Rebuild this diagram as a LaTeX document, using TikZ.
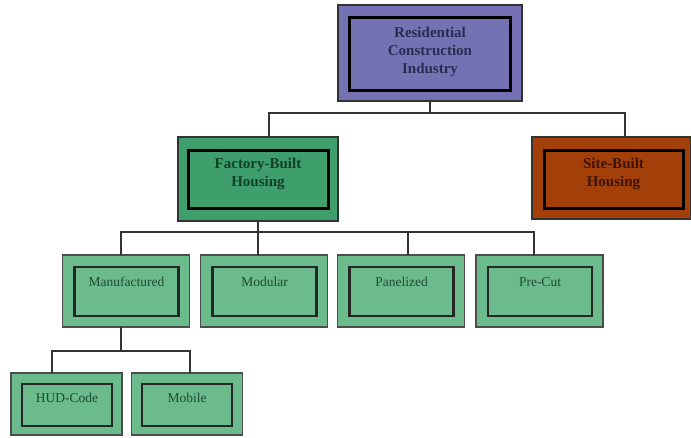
\documentclass[tikz,border=0pt]{standalone}
\usepackage{fontspec}
\setmainfont{Liberation Serif}
\usetikzlibrary{calc}
\definecolor{topfill}{HTML}{7572B4}
\definecolor{toptext}{HTML}{2B2B52}
\definecolor{fbfill}{HTML}{3E9E6C}
\definecolor{fbtext}{HTML}{123F25}
\definecolor{sbfill}{HTML}{A3400A}
\definecolor{sbtext}{HTML}{3A1406}
\definecolor{lvfill}{HTML}{6BBB8D}
\definecolor{lvtext}{HTML}{1F4A30}
\definecolor{conn}{HTML}{333333}
\begin{document}
\begin{tikzpicture}[x=1pt,y=-1pt,
  outerbox/.style={draw=#1,line width=2pt,inner sep=0,outer sep=0},
  innerbox/.style={draw=black,line width=3pt,inner sep=0,outer sep=0},
  smallouter/.style={draw=#1,line width=1.6pt,inner sep=0,outer sep=0,fill=lvfill,minimum width=127pt,minimum height=72pt},
  smallinner/.style={draw=black!85,line width=2.4pt,inner sep=0,outer sep=0,minimum width=104pt,minimum height=49pt},
  tinyouter/.style={draw=#1,line width=1.6pt,inner sep=0,outer sep=0,fill=lvfill,minimum width=111pt,minimum height=62pt},
  tinyinner/.style={draw=black!85,line width=2.4pt,inner sep=0,outer sep=0,minimum width=90pt,minimum height=42pt},
  bigtxt/.style={font=\fontsize{15}{18}\selectfont\bfseries,align=center,inner sep=0},
  smalltxt/.style={font=\fontsize{13.5}{16}\selectfont,text=lvtext,inner sep=0},
  link/.style={draw=conn,line width=1.5pt}]
\useasboundingbox (0,0) rectangle (691,437);

% connectors
\coordinate (j1) at (430,113);
\coordinate (j2) at (258,232);
\coordinate (j3) at (121,351);

% top
\node[outerbox=black!80,fill=topfill,minimum width=184pt,minimum height=96pt] (top) at (430,53) {};
\node[innerbox,minimum width=161pt,minimum height=73pt] (topin) at (429.5,53.5) {};
\node[bigtxt,text=toptext] (toptxt) at (430,52) {Residential\\Construction\\Industry};

% level 2
\node[outerbox=black!80,fill=fbfill,minimum width=160pt,minimum height=84pt] (fb) at (258,179) {};
\node[innerbox,minimum width=140pt,minimum height=58pt] (fbin) at (258,179) {};
\node[bigtxt,text=fbtext] (fbtxt) at (258,174) {Factory-Built\\Housing};

\node[outerbox=black!80,fill=sbfill,minimum width=159pt,minimum height=82pt] (sb) at (611.5,178) {};
\node[innerbox,minimum width=139pt,minimum height=58pt] (sbin) at (613.5,179) {};
\node[bigtxt,text=sbtext] (sbtxt) at (613.5,174) {Site-Built\\Housing};

% level 3
\node[smallouter=black!70] (man) at (126,291) {};
\node[smallinner] (manin) at (126.5,291.5) {};
\node[smalltxt] (mantxt) at (126.5,282) {Manufactured};

\node[smallouter=black!70] (mod) at (264,291) {};
\node[smallinner] (modin) at (264.5,291.5) {};
\node[smalltxt] (modtxt) at (264.5,282) {Modular};

\node[smallouter=black!70] (pan) at (401,291) {};
\node[smallinner] (panin) at (401.5,291.5) {};
\node[smalltxt] (pantxt) at (401.5,282) {Panelized};

\node[smallouter=black!70] (pre) at (539.5,291) {};
\node[smallinner] (prein) at (540,291.5) {};
\node[smalltxt] (pretxt) at (540,282) {Pre-Cut};

% level 4
\node[tinyouter=black!70] (hud) at (66.5,404) {};
\node[tinyinner] (hudin) at (67,405) {};
\node[smalltxt] (hudtxt) at (67,398) {HUD-Code};

\node[tinyouter=black!70] (mob) at (187,404) {};
\node[tinyinner] (mobin) at (187,405) {};
\node[smalltxt] (mobtxt) at (187,398) {Mobile};

% connector lines
\draw[link] (top.south) -- (j1);
\draw[link] ($(fb.north)+(11,0)$) |- (j1) -| ($(sb.north)+(13.5,0)$);
\draw[link] (fb.south) -- (j2);
\draw[link] ($(man.north)+(-5,0)$) |- (j2) -| ($(pre.north)+(-5.5,0)$);
\draw[link] ($(mod.north)+(-6,0)$) -- ($(mod.north)+(-6,-23)$);
\draw[link] ($(pan.north)+(7,0)$) -- ($(pan.north)+(7,-23)$);
\draw[link] ($(man.south)+(-5,0)$) -- (j3);
\draw[link] ($(hud.north)+(-14.5,0)$) |- (j3) -| ($(mob.north)+(3,0)$);
\end{tikzpicture}
\end{document}
